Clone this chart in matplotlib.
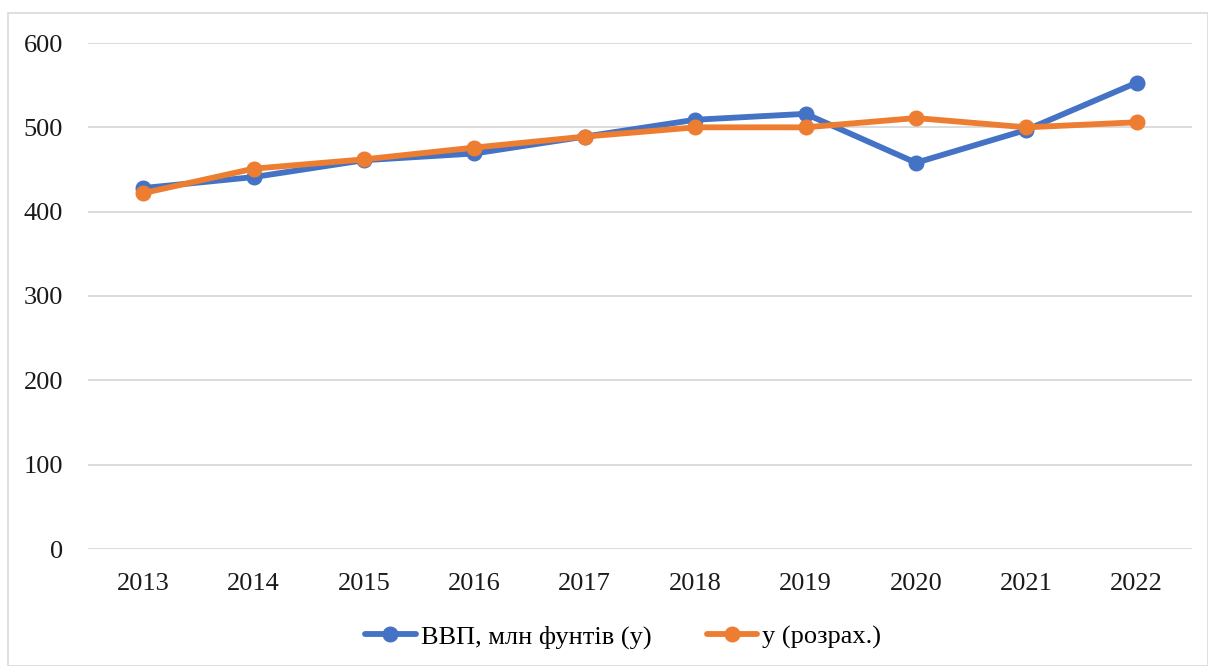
import numpy as np
import matplotlib.pyplot as plt
from matplotlib.patches import Rectangle

years = ['2013', '2014', '2015', '2016', '2017', '2018', '2019', '2020', '2021', '2022']
gdp = [428, 441, 461, 469, 489, 509, 516, 458, 497, 553]
gdp_calc = [422, 451, 462, 476, 489, 500, 500, 511, 500, 506]

plt.rcParams['font.family'] = ['Liberation Serif', 'DejaVu Serif']

fig = plt.figure(figsize=(12.08, 6.66), dpi=100)
fig.patch.set_facecolor('white')
# chart frame
fig.patches.append(Rectangle((8 / 1208, 0), 1 - 8 / 1208, 1 - 13 / 666, transform=fig.transFigure,
                             facecolor='white', edgecolor='#d9d9d9', linewidth=1.2, zorder=-5))

ax = fig.add_axes([88 / 1208, 1 - 549 / 666, 1104 / 1208, 506 / 666])
ax.set_facecolor('none')
x = np.arange(len(years))
ax.plot(x, gdp, color='#4472C4', lw=4.2, marker='o', ms=10.5, label='ВВП, млн фунтів (y)',
        solid_capstyle='round', zorder=3)
ax.plot(x, gdp_calc, color='#ED7D31', lw=4.2, marker='o', ms=10.5, label='y (розрах.)',
        solid_capstyle='round', zorder=4)

ax.set_xlim(-0.5, len(years) - 0.5)
ax.set_ylim(0, 600)
ax.set_yticks(range(0, 601, 100))
ax.set_xticks(x)
ax.set_xticklabels(years)
ax.grid(axis='y', color='#d9d9d9', lw=1.3)
ax.set_axisbelow(True)
for s in ax.spines.values():
    s.set_visible(False)
ax.tick_params(length=0, labelsize=19, colors='#1a1a1a')
ax.tick_params(axis='y', pad=18)
ax.tick_params(axis='x', pad=17)

fig.legend(loc='center', bbox_to_anchor=(0.516, 1 - 637 / 666), ncol=2, frameon=False,
           fontsize=19, handlelength=1.9, columnspacing=2.1, handletextpad=0.2)

plt.savefig('out.png', dpi=100)
